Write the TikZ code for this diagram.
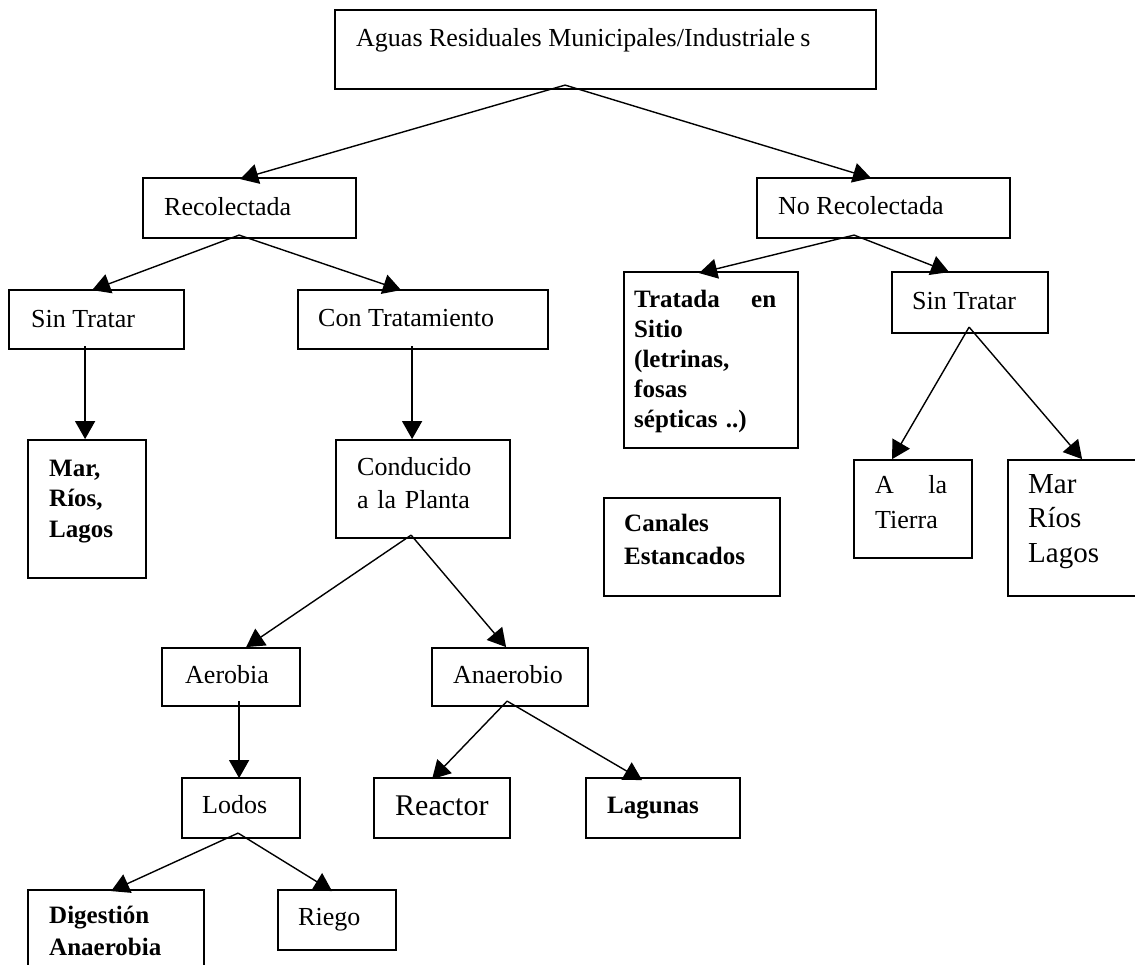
\documentclass[tikz,border=0pt]{standalone}
\usepackage{fontspec}
\setmainfont{Liberation Serif}
\usetikzlibrary{arrows.meta,fit,calc}
\begin{document}
\begin{tikzpicture}[x=1pt,y=-1pt,
  box/.style={draw, line width=1.8pt, inner sep=0pt},
  arr/.style={line width=1.4pt, -{Triangle[length=18pt,width=20pt]}},
  txt/.style={anchor=base west, inner sep=0pt, font=\fontsize{26}{33}\selectfont},
  btxt/.style={anchor=base west, inner sep=0pt, font=\fontsize{25}{30}\selectfont\bfseries}]
\useasboundingbox (0,0) rectangle (1135,965);
\fill[white] (0,0) rectangle (1135,965);
% boxes
\node[box, fit={(335,10) (876,89)}] (top) {};
\node[box, fit={(143,178) (356,238)}] (rec) {};
\node[box, fit={(757,178) (1010,238)}] (norec) {};
\node[box, fit={(9,290) (184,349)}] (sint1) {};
\node[box, fit={(298,290) (548,349)}] (con) {};
\node[box, fit={(624,272) (798,448)}] (trat) {};
\node[box, fit={(892,272) (1048,333)}] (sint2) {};
\node[box, fit={(28,440) (146,578)}] (mar1) {};
\node[box, fit={(336,440) (510,538)}] (cond) {};
\node[box, fit={(604,498) (780,596)}] (canal) {};
\node[box, fit={(854,460) (972,558)}] (tierra) {};
\node[box, fit={(1008,460) (1145,596)}] (mar2) {};
\node[box, fit={(162,648) (300,706)}] (aer) {};
\node[box, fit={(432,648) (588,706)}] (ana) {};
\node[box, fit={(182,778) (300,838)}] (lodos) {};
\node[box, fit={(374,778) (510,838)}] (reac) {};
\node[box, fit={(586,778) (740,838)}] (lag) {};
\node[box, fit={(28,890) (204,985)}] (dig) {};
\node[box, fit={(278,890) (396,950)}] (riego) {};
% texts
\node[txt] (top-t) at (356,47) {Aguas Residuales Municipales/Industriale\kern5pt s};
\node[txt] (rec-t) at (164,216) {Recolectada};
\node[txt] (norec-t) at (778,215) {No Recolectada};
\node[txt] (sint1-t) at (31,328) {Sin Tratar};
\node[txt] (con-t) at (318,327) {Con Tratamiento};
\node[btxt, text width=142pt, align=left] (trat-t) at (634,308) {Tratada\hfill en\\Sitio\\(letrinas,\\fosas\\sépticas ..)};
\node[txt] (sint2-t) at (912,310) {Sin Tratar};
\node[btxt, text width=90pt, align=left, font=\fontsize{25}{30.5}\selectfont\bfseries] (mar1-t) at (49,476) {Mar,\\Ríos,\\Lagos};
\node[txt, text width=140pt, align=left] (cond-t) at (357,475) {Conducido\\a la Planta};
\node[btxt, text width=150pt, align=left, font=\fontsize{25}{33}\selectfont\bfseries] (canal-t) at (624,531) {Canales\\Estancados};
\node[txt, text width=72pt, align=left, font=\fontsize{26}{35}\selectfont] (tierra-t) at (875,493) {A\hfill la\\Tierra};
\node[txt, text width=100pt, align=left, font=\fontsize{29}{34.5}\selectfont] (mar2-t) at (1028,493) {Mar\\Ríos\\Lagos};
\node[txt] (aer-t) at (185,683) {Aerobia};
\node[txt] (ana-t) at (453,683) {Anaerobio};
\node[txt] (lodos-t) at (202,813) {Lodos};
\node[txt, font=\fontsize{30}{36}\selectfont] (reac-t) at (395,815) {Reactor};
\node[btxt] (lag-t) at (607,813) {Lagunas};
\node[btxt, text width=150pt, align=left, font=\fontsize{25}{32}\selectfont\bfseries] (dig-t) at (49,923) {Digestión\\Anaerobia};
\node[txt] (riego-t) at (298,925) {Riego};
% connectors
\draw[arr] ($(top.north west)+(231,76)$) -- ($(rec.north west)+(98,2)$);
\draw[arr] ($(top.north west)+(231,76)$) -- ($(norec.north west)+(115,1)$);
\draw[arr] ($(rec.north west)+(97,58)$) -- ($(sint1.north west)+(84,1)$);
\draw[arr] ($(rec.north west)+(97,58)$) -- ($(con.north west)+(104,1)$);
\draw[arr] ($(norec.north west)+(98,58)$) -- ($(trat.north west)+(76,2)$);
\draw[arr] ($(norec.north west)+(98,58)$) -- ($(sint2.north west)+(58,1)$);
\draw[arr] ($(sint1.north west)+(77,57)$) -- ($(mar1.north west)+(58,0)$);
\draw[arr] ($(con.north west)+(115,57)$) -- ($(cond.north west)+(77,0)$);
\draw[arr] ($(sint2.north west)+(78,56)$) -- ($(tierra.north west)+(39,0)$);
\draw[arr] ($(sint2.north west)+(78,56)$) -- ($(mar2.north west)+(75,0)$);
\draw[arr] ($(cond.north west)+(76,96)$) -- ($(aer.north west)+(85,0)$);
\draw[arr] ($(cond.north west)+(76,96)$) -- ($(ana.north west)+(75,0)$);
\draw[arr] ($(aer.north west)+(78,54)$) -- ($(lodos.north west)+(58,1)$);
\draw[arr] ($(ana.north west)+(76,54)$) -- ($(reac.north west)+(59,2)$);
\draw[arr] ($(ana.north west)+(76,54)$) -- ($(lag.north west)+(57,3)$);
\draw[arr] ($(lodos.north west)+(57,56)$) -- ($(dig.north west)+(84,2)$);
\draw[arr] ($(lodos.north west)+(57,56)$) -- ($(riego.north west)+(55,2)$);
\end{tikzpicture}
\end{document}
